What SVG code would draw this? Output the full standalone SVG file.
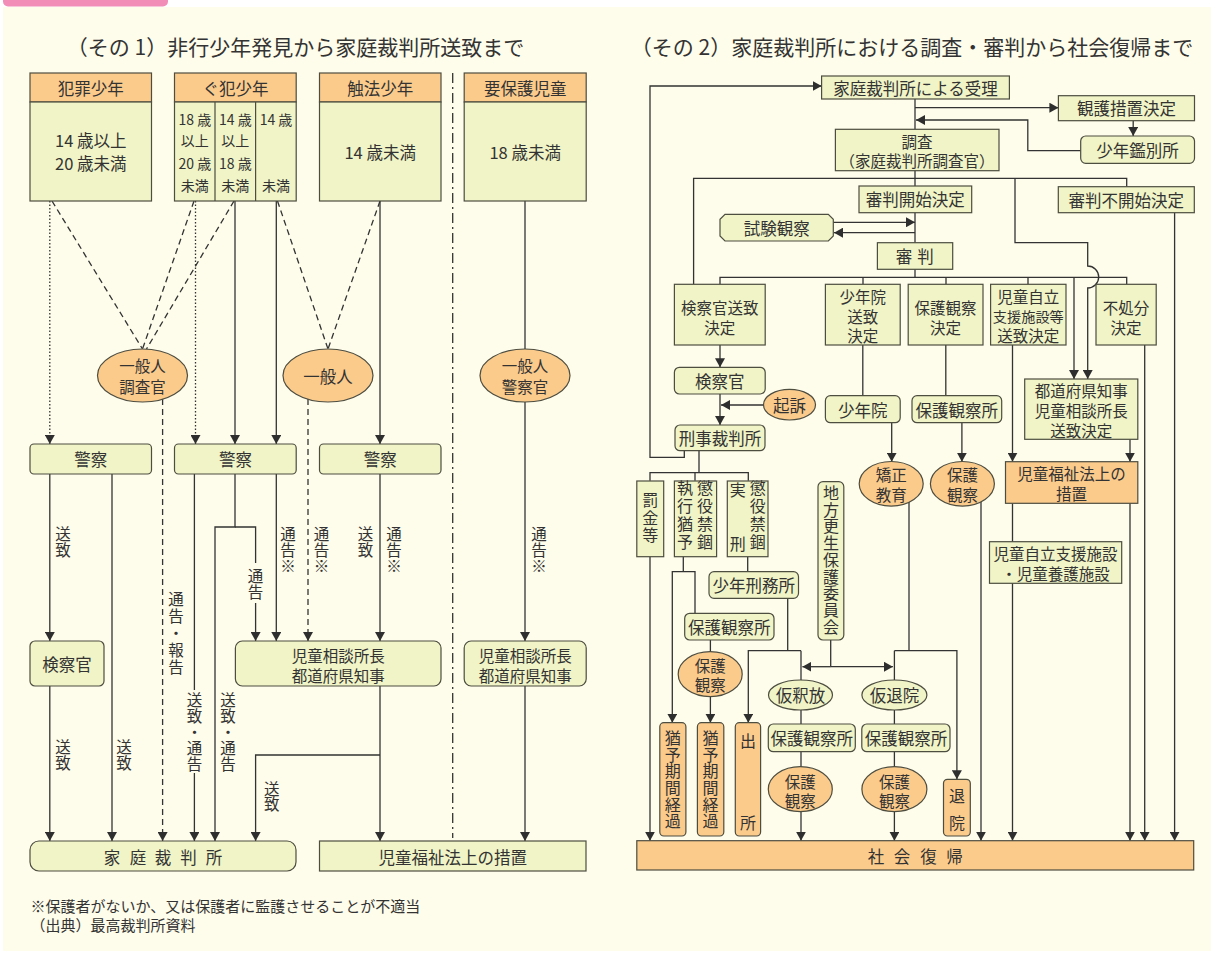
<svg xmlns="http://www.w3.org/2000/svg" width="1211" height="954" viewBox="0 0 1211 954">
<defs>
<marker id="ah" viewBox="0 0 9 10" refX="9" refY="5" markerWidth="9" markerHeight="10" markerUnits="userSpaceOnUse" orient="auto"><path d="M0,0 L9,5 L0,10 z" fill="#2e2e2e"/></marker>
<style>
text{font-family:"Noto Sans CJK JP","Noto Sans CJK SC",sans-serif;fill:#333;font-size:16.5px;text-anchor:middle;dominant-baseline:central}
.o{fill:#FBCB8C;stroke:#4d4d40;stroke-width:1.2}
.g{fill:#F0F4C6;stroke:#4d4d40;stroke-width:1.2}
.dv{stroke:#4d4d40;stroke-width:1.2}
.l{fill:none;stroke:#333;stroke-width:1.3}
.a{marker-end:url(#ah)}
.ds{stroke-dasharray:6 4}
.dt{stroke-dasharray:1.5 2}
.dd{stroke-dasharray:10 4 2 4}
.s14{font-size:14px}
.v{font-size:15.5px;writing-mode:vertical-rl}
.vr{font-size:16px;writing-mode:vertical-rl}
.r16{font-size:16px}
.e2{font-size:15.5px}
.ttl{font-size:21px}
.fn{font-size:15px;text-anchor:start}
</style>
</defs>
<rect x="0" y="0" width="1211" height="954" fill="#ffffff"/>
<rect x="3" y="7" width="1208" height="944" fill="#FEFCEA"/>
<path d="M3,0 H168 V1.5 a5,5 0 0 1 -5,5 H8 a5,5 0 0 1 -5,-5 z" fill="#F28DB8"/>

<text class="ttl" x="295.5" y="46">（その 1）非行少年発見から家庭裁判所送致まで</text>
<text class="ttl" x="912" y="46">（その 2）家庭裁判所における調査・審判から社会復帰まで</text>

<g id="connectors">
<path class="l a dt" d="M49.8,201V444"/>
<path class="l ds" d="M52,201L142.5,349"/>
<path class="l ds" d="M194,201L142.5,349"/>
<path class="l ds" d="M234,201L146.5,349"/>
<path class="l a dt" d="M195.5,201V444"/>
<path class="l a" d="M235,201V444"/>
<path class="l a" d="M276.3,201V444"/>
<path class="l ds" d="M277.5,201L328,349"/>
<path class="l ds" d="M380,201L328,349"/>
<path class="l a" d="M380,201V444"/>
<path class="l a" d="M525,201V641"/>
<path class="l dd" d="M452.7,73V838"/>
<path class="l a ds" d="M162.6,399V841"/>
<path class="l a ds" d="M308,399V641"/>
<path class="l a" d="M49.8,474V641"/>
<path class="l a" d="M112,474V841"/>
<path class="l a" d="M49.8,686V841"/>
<path class="l" d="M194.4,474V690"/>
<path class="l a" d="M194.4,773V841"/>
<path class="l a" d="M235,474V527H215V841"/>
<path class="l" d="M235,527H255.6V563"/>
<path class="l a" d="M255.6,603V641"/>
<path class="l a" d="M276.3,474V641"/>
<path class="l a" d="M380,474V641"/>
<path class="l a" d="M380,686V841"/>
<path class="l a" d="M380,755H255.6V841"/>
<path class="l a" d="M525,686V841"/>
<path class="l a" d="M684.3,450.7V457.3H650V86H821.6"/>
<path class="l" d="M915,99V129.3"/>
<path class="l a" d="M915,107.7H1058.4"/>
<path class="l a" d="M1133.2,120.7V136"/>
<path class="l a" d="M1080.7,150.7H1027.8V120H916"/>
<path class="l" d="M915,170.7V186"/>
<path class="l" d="M693.6,284.3V178.3H1126.7V186.7"/>
<path class="l a" d="M1015,178.3V242.7H1087.7V266A11,11 0 0 1 1087.7,288V379"/>
<path class="l" d="M915,212.7V242.7"/>
<path class="l a" d="M833.3,222.3H915"/>
<path class="l a" d="M915,232.7H834"/>
<path class="l" d="M915,269.3V277.3"/>
<path class="l" d="M720,284.3V277.3H1126.7V284.3"/>
<path class="l" d="M863,277.3V284.3M946,277.3V284.3M1028,277.3V284.3"/>
<path class="l a" d="M1074,277.3V379"/>
<path class="l a" d="M720,345V367.3"/>
<path class="l a" d="M720,394V425"/>
<path class="l a" d="M763.5,405H721"/>
<path class="l" d="M862.8,345V395.7"/>
<path class="l a" d="M891.7,422.7V461.7"/>
<path class="l" d="M945.8,345V395.7"/>
<path class="l a" d="M961.9,422.7V461.7"/>
<path class="l a" d="M1012.5,345V461.7"/>
<path class="l a" d="M1130,439.3V461.7"/>
<path class="l a" d="M1144.7,345V840.7"/>
<path class="l a" d="M1174.6,212.7V840.7"/>
<path class="l a" d="M1012.5,503.3V840.7"/>
<path class="l a" d="M1130,503.3V840.7"/>
<path class="l a" d="M981,502V840.7"/>
<path class="l" d="M909,502V650.7"/>
<path class="l a" d="M894.4,650.7H956.9V779.3"/>
<path class="l a" d="M894.4,650.7V840.7"/>
<path class="l" d="M787.7,598.3V650.7"/>
<path class="l a" d="M801,650.7H748.3V722.7"/>
<path class="l a" d="M801,650.7V840.7"/>
<path class="l" d="M830.7,640V666.7"/>
<path class="l a" d="M830.7,666.7H802.4"/>
<path class="l a" d="M830.7,666.7H892.9"/>
<path class="l" d="M699,450.7V472.7M650,480.7V472.7H748.3V480.7M695,472.7V480.7"/>
<path class="l a" d="M650,556.7V840.7"/>
<path class="l" d="M683.3,556.7V571.7"/>
<path class="l a" d="M695,613.3V571.7H672.3V722.7"/>
<path class="l" d="M747.7,556.7V571.7"/>
<path class="l" d="M710.4,640V651.7"/>
<path class="l a" d="M710.4,696.7V722.7"/>
</g>

<g id="labels-left">
<text class="v" x="63" y="542.3">送致</text>
<text class="v" x="176" y="634" letter-spacing="1.5">通告・報告</text>
<text class="v" x="194.4" y="732" letter-spacing="0.5">送致・通告</text>
<text class="v" x="228" y="732" letter-spacing="0.5">送致・通告</text>
<text class="v" x="255.6" y="584" letter-spacing="0.5">通告</text>
<text class="v" x="288" y="550.3" letter-spacing="0.3">通告※</text>
<text class="v" x="321.5" y="550.3" letter-spacing="0.3">通告※</text>
<text class="v" x="365.5" y="542.3">送致</text>
<text class="v" x="394" y="550.3" letter-spacing="0.3">通告※</text>
<text class="v" x="539" y="550.3" letter-spacing="0.3">通告※</text>
<text class="v" x="63" y="755.3">送致</text>
<text class="v" x="124" y="755.3">送致</text>
<text class="v" x="271.7" y="796.8">送致</text>
</g>

<g id="n-hanzai">
<rect class="o" x="30" y="73" width="121.5" height="29"/>
<rect class="g" x="30" y="102" width="121.5" height="99"/>
<text x="90.8" y="88">犯罪少年</text>
<text><tspan x="90.8" y="139.5">14 歳以上</tspan><tspan x="90.8" y="162.5">20 歳未満</tspan></text>
</g>
<g id="n-guhan">
<rect class="o" x="174.5" y="73" width="121.7" height="29"/>
<rect class="g" x="174.5" y="102" width="121.7" height="99"/>
<path class="dv" d="M215,102V201M255.6,102V201"/>
<text x="235.4" y="88">ぐ犯少年</text>
<text class="s14"><tspan x="194.8" y="118.5">18 歳</tspan><tspan x="194.8" y="140">以上</tspan><tspan x="194.8" y="163">20 歳</tspan><tspan x="194.8" y="184.5">未満</tspan></text>
<text class="s14"><tspan x="235.3" y="118.5">14 歳</tspan><tspan x="235.3" y="140">以上</tspan><tspan x="235.3" y="163">18 歳</tspan><tspan x="235.3" y="184.5">未満</tspan></text>
<text class="s14"><tspan x="276" y="118.5">14 歳</tspan><tspan x="276" y="184.5">未満</tspan></text>
</g>
<g id="n-shokuho">
<rect class="o" x="319.5" y="73" width="121.5" height="29"/>
<rect class="g" x="319.5" y="102" width="121.5" height="99"/>
<text x="380.2" y="88">触法少年</text>
<text x="380.2" y="152">14 歳未満</text>
</g>
<g id="n-yohogo">
<rect class="o" x="464.2" y="73" width="122" height="29"/>
<rect class="g" x="464.2" y="102" width="122" height="99"/>
<text x="525.2" y="88">要保護児童</text>
<text x="525.2" y="152">18 歳未満</text>
</g>
<g id="n-ippan1">
<ellipse class="o" cx="142.5" cy="375.5" rx="45" ry="26.5"/>
<text class="e2"><tspan x="142.5" y="365">一般人</tspan><tspan x="142.5" y="385.5">調査官</tspan></text>
</g>
<g id="n-ippan2">
<ellipse class="o" cx="328" cy="375.5" rx="45" ry="26.5"/>
<text x="328" y="375.5">一般人</text>
</g>
<g id="n-ippan3">
<ellipse class="o" cx="525" cy="375.5" rx="45" ry="26.5"/>
<text class="e2"><tspan x="525" y="365">一般人</tspan><tspan x="525" y="385.5">警察官</tspan></text>
</g>
<g id="n-keisatsu1"><rect class="g" x="30" y="444" width="121.5" height="30" rx="4"/><text x="90.8" y="459">警察</text></g>
<g id="n-keisatsu2"><rect class="g" x="174.5" y="444" width="121.7" height="30" rx="4"/><text x="235.4" y="459">警察</text></g>
<g id="n-keisatsu3"><rect class="g" x="319.5" y="444" width="121.5" height="30" rx="4"/><text x="380.2" y="459">警察</text></g>
<g id="n-kensatsukan-l"><rect class="g" x="30" y="641" width="74" height="45" rx="5"/><text x="67" y="664">検察官</text></g>
<g id="n-jisou1"><rect class="g" x="235.4" y="641" width="205.6" height="45" rx="7"/><text class="e2"><tspan x="338.2" y="654.5">児童相談所長</tspan><tspan x="338.2" y="675">都道府県知事</tspan></text></g>
<g id="n-jisou2"><rect class="g" x="464.2" y="641" width="122" height="45" rx="7"/><text class="e2"><tspan x="525.2" y="654.5">児童相談所長</tspan><tspan x="525.2" y="675">都道府県知事</tspan></text></g>
<g id="n-katei"><rect class="g" x="30" y="841" width="266" height="30" rx="9"/>
<text><tspan x="112" y="856.5">家</tspan><tspan x="138" y="856.5">庭</tspan><tspan x="163" y="856.5">裁</tspan><tspan x="188.5" y="856.5">判</tspan><tspan x="214" y="856.5">所</tspan></text></g>
<g id="n-fukushi-l"><rect class="g" x="319.5" y="841" width="266.5" height="30"/><text x="452.7" y="856.5">児童福祉法上の措置</text></g>

<text class="fn" x="30.6" y="905">※保護者がないか、又は保護者に監護させることが不適当</text>
<text class="fn" x="30.6" y="924">（出典）最高裁判所資料</text>

<g id="n-juri"><rect class="g" x="821.6" y="76" width="187.8" height="23"/><text x="915.5" y="88">家庭裁判所による受理</text></g>
<g id="n-kango"><rect class="g" x="1058.4" y="95.7" width="136.1" height="25"/><text x="1126.5" y="108.3">観護措置決定</text></g>
<g id="n-kanbetsu"><rect class="g" x="1080.7" y="136" width="113.8" height="27.3" rx="5"/><text x="1137.6" y="150">少年鑑別所</text></g>
<g id="n-chosa"><rect class="g" x="835.4" y="129.3" width="163.6" height="41.4"/><text class="e2"><tspan x="917" y="141">調査</tspan><tspan x="917" y="160.2">（家庭裁判所調査官）</tspan></text></g>
<g id="n-shinpan-kaishi"><rect class="g" x="859" y="186" width="112.7" height="26.7"/><text x="915.3" y="199.3">審判開始決定</text></g>
<g id="n-shinpan-fukaishi"><rect class="g" x="1058.3" y="186.7" width="136" height="26"/><text x="1126.3" y="199.7">審判不開始決定</text></g>
<g id="n-shiken"><path class="g" d="M725,214.3H828.3L833.3,219.3V236L828.3,241H725L720,236V219.3Z"/><text x="776.7" y="228">試験観察</text></g>
<g id="n-shinpan"><rect class="g" x="877.4" y="242.7" width="75.3" height="26.6"/><text><tspan x="904" y="256">審</tspan><tspan x="925.5" y="256">判</tspan></text></g>
<g id="n-kensatsu-soti"><rect class="g" x="674.4" y="284.3" width="90.8" height="60.7"/><text class="e2"><tspan x="719.8" y="307.2">検察官送致</tspan><tspan x="719.8" y="326.8">決定</tspan></text></g>
<g id="n-shonenin-soti"><rect class="g" x="825.4" y="284.3" width="74.8" height="60.7"/><text class="e2"><tspan x="862.8" y="295.9">少年院</tspan><tspan x="862.8" y="315.6">送致</tspan><tspan x="862.8" y="335.3">決定</tspan></text></g>
<g id="n-hogokansatsu-kettei"><rect class="g" x="908.2" y="284.3" width="74.8" height="60.7"/><text class="e2"><tspan x="945.6" y="307.2">保護観察</tspan><tspan x="945.6" y="326.8">決定</tspan></text></g>
<g id="n-jiritsu-soti"><rect class="g" x="990.6" y="284.3" width="75.4" height="60.7"/><text class="e2"><tspan x="1028.3" y="295.9">児童自立</tspan><tspan x="1028.3" y="315.6" style="font-size:14.2px">支援施設等</tspan><tspan x="1028.3" y="335.3">送致決定</tspan></text></g>
<g id="n-fushobun"><rect class="g" x="1096" y="284.3" width="60.2" height="60.7"/><text class="e2"><tspan x="1126.1" y="307.2">不処分</tspan><tspan x="1126.1" y="326.8">決定</tspan></text></g>
<g id="n-kensatsukan-r"><rect class="g" x="674.4" y="367.3" width="90.8" height="26.7" rx="5"/><text x="719.8" y="381">検察官</text></g>
<g id="n-kiso"><ellipse class="o" cx="789.5" cy="404.7" rx="26" ry="15.3"/><text x="789.5" y="404.7">起訴</text></g>
<g id="n-keiji"><rect class="g" x="675" y="425" width="90" height="25.7" rx="5"/><text x="720" y="438">刑事裁判所</text></g>
<g id="n-shonenin"><rect class="g" x="825.4" y="395.7" width="74.8" height="27" rx="5"/><text x="862.8" y="409.5">少年院</text></g>
<g id="n-hogokansatsusho1"><rect class="g" x="912" y="395.7" width="89.7" height="27" rx="5"/><text x="956.8" y="409.5">保護観察所</text></g>
<g id="n-chiji"><rect class="g" x="1024.7" y="379" width="113.1" height="60.3"/><text class="e2"><tspan x="1081.2" y="390.3">都道府県知事</tspan><tspan x="1081.2" y="410">児童相談所長</tspan><tspan x="1081.2" y="429.7">送致決定</tspan></text></g>
<g id="n-kyosei"><ellipse class="o" cx="891.2" cy="483.8" rx="32" ry="22.3"/><text class="e2"><tspan x="891.2" y="474.3">矯正</tspan><tspan x="891.2" y="493.5">教育</tspan></text></g>
<g id="n-hogokansatsu1"><ellipse class="o" cx="962.4" cy="483.8" rx="32" ry="22.3"/><text class="e2"><tspan x="962.4" y="474.3">保護</tspan><tspan x="962.4" y="493.5">観察</tspan></text></g>
<g id="n-fukushi-r"><rect class="o" x="1005.5" y="461.7" width="132.3" height="41.6"/><text class="e2"><tspan x="1071.6" y="473">児童福祉法上の</tspan><tspan x="1071.6" y="492.6">措置</tspan></text></g>
<g id="n-jiritsu-shisetsu"><rect class="g" x="989.5" y="541.7" width="132.2" height="41.6"/><text class="e2"><tspan x="1055.6" y="552.8">児童自立支援施設</tspan><tspan x="1055.6" y="572.6">・児童養護施設</tspan></text></g>
<g id="n-bakkin"><rect class="g" x="636.8" y="481" width="26.9" height="75.7"/><text class="vr" x="650.2" y="518.5" letter-spacing="1.5">罰金等</text></g>
<g id="n-shikkoyuyo"><rect class="g" x="674.4" y="481" width="42.2" height="75.7"/><text class="vr" x="705" y="516" letter-spacing="1.8">懲役禁錮</text><text class="vr" x="685" y="516" letter-spacing="1.8">執行猶予</text></g>
<g id="n-jikkei"><rect class="g" x="727.3" y="481" width="40.7" height="75.7"/><text class="vr" x="757.7" y="516" letter-spacing="1.8">懲役禁錮</text><text class="r16"><tspan x="737.7" y="489.3">実</tspan><tspan x="737.7" y="542.7">刑</tspan></text></g>
<g id="n-chiho"><rect class="g" x="818" y="481.7" width="25.8" height="158.3" rx="5"/><text class="vr" x="831" y="560.1" letter-spacing="0.7">地方更生保護委員会</text></g>
<g id="n-keimusho"><rect class="g" x="709" y="571.7" width="89.5" height="26.6" rx="5"/><text x="753.7" y="585">少年刑務所</text></g>
<g id="n-hogokansatsusho2"><rect class="g" x="684.7" y="613.3" width="89.3" height="26.7" rx="5"/><text x="729.3" y="626.7">保護観察所</text></g>
<g id="n-hogokansatsu2"><ellipse class="o" cx="710.2" cy="674.2" rx="32" ry="22.5"/><text class="e2"><tspan x="710.2" y="664.6">保護</tspan><tspan x="710.2" y="683.8">観察</tspan></text></g>
<g id="n-karishaku"><ellipse class="g" cx="800.5" cy="695" rx="32" ry="15"/><text x="800.5" y="695">仮釈放</text></g>
<g id="n-karitai"><ellipse class="g" cx="894.4" cy="695" rx="32.5" ry="15"/><text x="894.4" y="695">仮退院</text></g>
<g id="n-hogokansatsusho3"><rect class="g" x="768.3" y="724" width="87" height="27.7" rx="5"/><text x="811.8" y="738">保護観察所</text></g>
<g id="n-hogokansatsusho4"><rect class="g" x="861.8" y="724" width="88.2" height="27.7" rx="5"/><text x="905.9" y="738">保護観察所</text></g>
<g id="n-hogokansatsu3"><ellipse class="o" cx="800.3" cy="789.2" rx="32" ry="22.5"/><text class="e2"><tspan x="800.3" y="780.6">保護</tspan><tspan x="800.3" y="799.8">観察</tspan></text></g>
<g id="n-hogokansatsu4"><ellipse class="o" cx="894.4" cy="789.2" rx="32.5" ry="22.5"/><text class="e2"><tspan x="894.4" y="780.6">保護</tspan><tspan x="894.4" y="799.8">観察</tspan></text></g>
<g id="n-yuyo1"><rect class="o" x="659.8" y="722.7" width="26.1" height="113.3" rx="4"/><text class="vr" x="672.8" y="780" letter-spacing="0.7">猶予期間経過</text></g>
<g id="n-yuyo2"><rect class="o" x="697.4" y="722.7" width="26.4" height="113.3" rx="4"/><text class="vr" x="710.6" y="780" letter-spacing="0.7">猶予期間経過</text></g>
<g id="n-shussho"><rect class="o" x="735.3" y="722.7" width="25.3" height="113.3" rx="4"/><text class="r16"><tspan x="748" y="740">出</tspan><tspan x="748" y="821.8">所</tspan></text></g>
<g id="n-taiin"><rect class="o" x="943.5" y="779.3" width="26.8" height="56.7" rx="4"/><text class="r16"><tspan x="956.9" y="795">退</tspan><tspan x="956.9" y="821.8">院</tspan></text></g>
<g id="n-shakai"><rect class="o" x="636.8" y="840.7" width="556.9" height="29.3"/><text><tspan x="876" y="856">社</tspan><tspan x="902" y="856">会</tspan><tspan x="928.5" y="856">復</tspan><tspan x="954.5" y="856">帰</tspan></text></g>
</svg>
